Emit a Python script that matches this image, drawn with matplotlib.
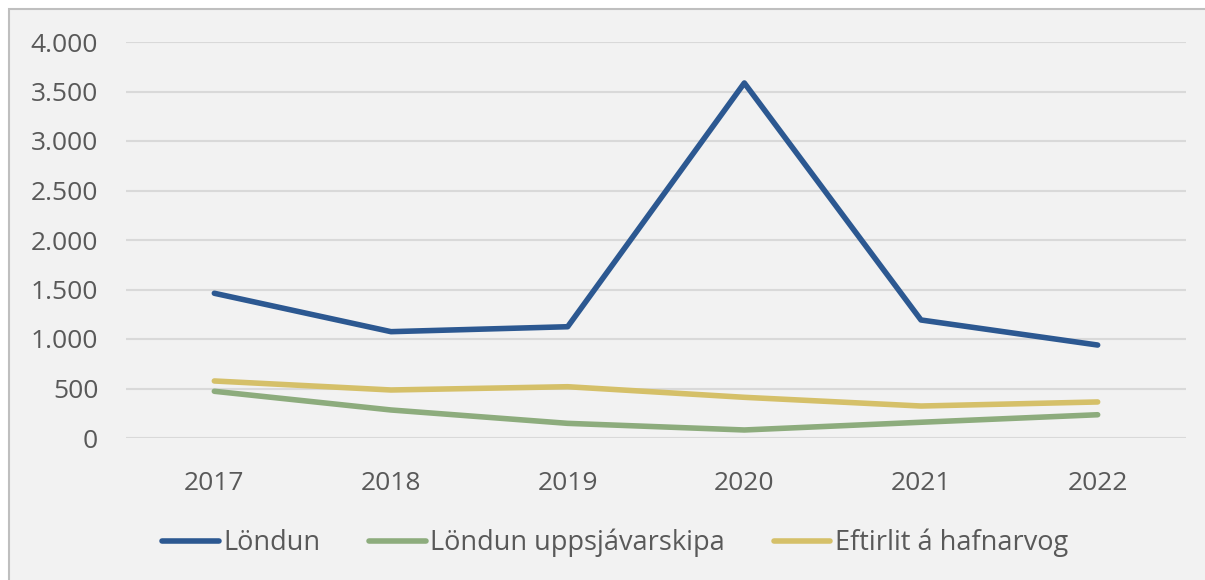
import matplotlib.pyplot as plt
from matplotlib.patches import Rectangle

years = ["2017", "2018", "2019", "2020", "2021", "2022"]
londun = [1462, 1074, 1124, 3586, 1192, 939]
londun_uppsjavar = [472, 283, 148, 81, 159, 235]
eftirlit = [576, 485, 518, 411, 323, 364]

yticks = [0, 500, 1000, 1500, 2000, 2500, 3000, 3500, 4000]
ytick_labels = ["0", "500", "1.000", "1.500", "2.000", "2.500", "3.000", "3.500", "4.000"]

plt.rcParams['font.family'] = ['Open Sans', 'DejaVu Sans']

fig = plt.figure(figsize=(12.05, 5.8), dpi=100)
fig.patch.set_facecolor('white')
# outer chart frame (runs off the right and bottom edges)
fig.patches.append(Rectangle((8.5 / 1205, -10 / 580), 1210 / 1205, 581.5 / 580,
                             transform=fig.transFigure, facecolor='#f2f2f2',
                             edgecolor='#bfbfbf', linewidth=1.5, zorder=-5))

ax = fig.add_axes([126 / 1205, 1 - 438 / 580, 1060 / 1205, 396 / 580])
ax.set_facecolor('none')
ax.set_zorder(2)

x = range(len(years))
ax.plot(x, londun, color='#2C5891', lw=4, solid_capstyle='round',
        solid_joinstyle='round', label='Löndun', zorder=3)
ax.plot(x, londun_uppsjavar, color='#8DAC7D', lw=4, solid_capstyle='round',
        solid_joinstyle='round', label='Löndun uppsjávarskipa', zorder=3)
ax.plot(x, eftirlit, color='#D5C069', lw=4, solid_capstyle='round',
        solid_joinstyle='round', label='Eftirlit á hafnarvog', zorder=3)

ax.set_xlim(-0.5, len(years) - 0.5)
ax.set_ylim(0, 4000)
ax.set_yticks(yticks)
ax.set_yticklabels(ytick_labels)
ax.set_xticks(list(x))
ax.set_xticklabels(years)
ax.grid(axis='y', color='#d9d9d9', lw=1.5, zorder=1)
ax.tick_params(length=0, labelsize=19, labelcolor='#595959')
ax.tick_params(axis='y', pad=20)
ax.tick_params(axis='x', pad=24)
for s in ax.spines.values():
    s.set_visible(False)

leg = fig.legend(loc='center', bbox_to_anchor=(615 / 1205, 1 - 543 / 580), ncol=3,
                 frameon=False, fontsize=19.5, handlelength=2.1, handletextpad=0.15,
                 columnspacing=1.8)
for t in leg.get_texts():
    t.set_color('#595959')

fig.savefig('out.png', dpi=100)
